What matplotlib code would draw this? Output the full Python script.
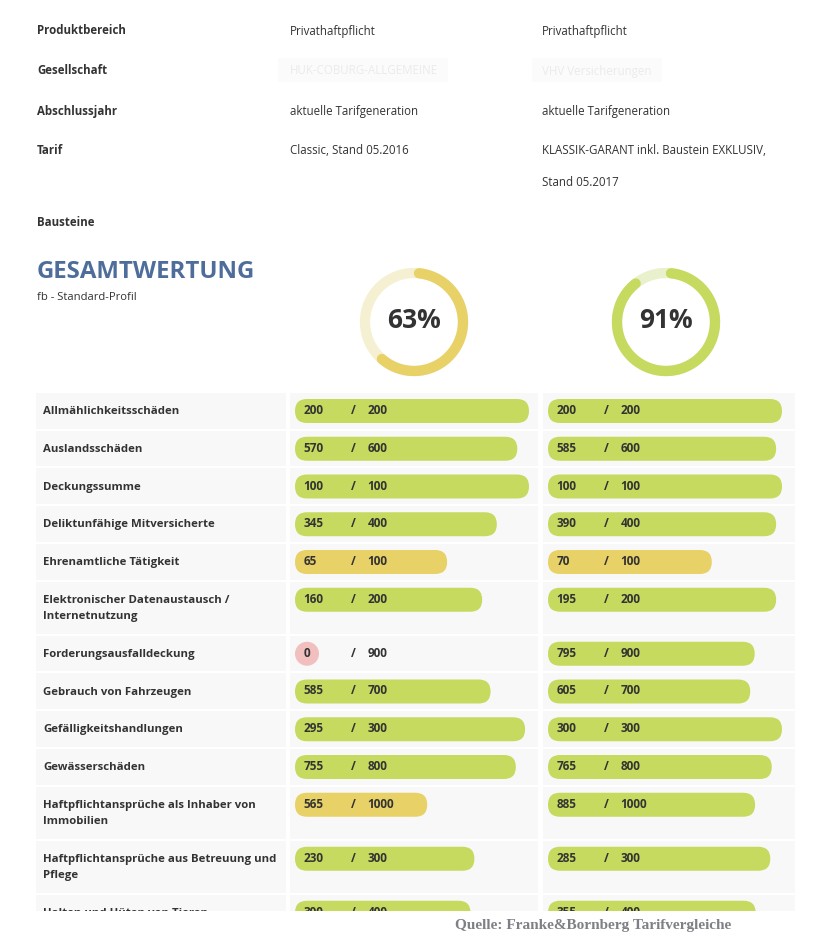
import matplotlib
matplotlib.use("Agg")
import matplotlib.pyplot as plt
from matplotlib.patches import FancyBboxPatch, Circle, Rectangle
import numpy as np

plt.rcParams['font.family'] = ['Open Sans', 'DejaVu Sans']

# Kopfbereich
kopf_labels = ["Produktbereich", "Gesellschaft", "Abschlussjahr", "Tarif", "Bausteine"]
tarif_a = ["Privathaftpflicht", "HUK-COBURG-ALLGEMEINE", "aktuelle Tarifgeneration",
           "Classic, Stand 05.2016", ""]
tarif_b = ["Privathaftpflicht", "VHV Versicherungen", "aktuelle Tarifgeneration",
           "KLASSIK-GARANT inkl. Baustein EXKLUSIV,\nStand 05.2017", ""]

gesamt_a = 63
gesamt_b = 91

kriterien = [
    "Allmählichkeitsschäden",
    "Auslandsschäden",
    "Deckungssumme",
    "Deliktunfähige Mitversicherte",
    "Ehrenamtliche Tätigkeit",
    "Elektronischer Datenaustausch /\nInternetnutzung",
    "Forderungsausfalldeckung",
    "Gebrauch von Fahrzeugen",
    "Gefälligkeitshandlungen",
    "Gewässerschäden",
    "Haftpflichtansprüche als Inhaber von\nImmobilien",
    "Haftpflichtansprüche aus Betreuung und\nPflege",
    "Halten und Hüten von Tieren",
]
punkte_a = [200, 570, 100, 345, 65, 160, 0, 585, 295, 755, 565, 230, 300]
punkte_b = [200, 585, 100, 390, 70, 195, 795, 605, 300, 765, 885, 285, 355]
max_punkte = [200, 600, 100, 400, 100, 200, 900, 700, 300, 800, 1000, 300, 400]

GRUEN = "#c5da5f"
GELB = "#e8d166"
ROSA = "#f2bfbf"
TEXT = "#333333"

W, H = 833, 938
fig = plt.figure(figsize=(W / 100, H / 100), dpi=100)
ax = fig.add_axes([0, 0, 1, 1])
ax.set_xlim(0, W)
ax.set_ylim(H, 0)
ax.axis("off")

# --- Kopf ---
kopf_y = [30, 70, 110, 150, 222]
for lab, a, b, y in zip(kopf_labels, tarif_a, tarif_b, kopf_y):
    ax.text(37, y + 1, lab, fontsize=8.3, fontweight="bold", color=TEXT, va="center")
    if lab == "Gesellschaft":
        # verwischte Namen
        ax.add_patch(Rectangle((278, y - 12), 170, 24, color="#fbfbfb", lw=0))
        ax.add_patch(Rectangle((532, y - 12), 130, 24, color="#fbfbfb", lw=0))
        ax.text(290, y + 1, a, fontsize=8.3, color="#ebebeb", va="center")
        ax.text(542, y + 1, b, fontsize=8.3, color="#ebebeb", va="center")
        continue
    for x, txt in ((290, a), (542, b)):
        for i, line in enumerate(txt.split("\n")):
            ax.text(x, y + 1 + i * 32, line, fontsize=8.3, color=TEXT, va="center")

# --- Gesamtwertung ---
ax.text(37, 272, "GESAMTWERTUNG", fontsize=17.3, fontweight="bold", color="#4f6d9b", va="center")
ax.text(37, 297, "fb - Standard-Profil", fontsize=8.1, color=TEXT, va="center")


def ring(cx, cy, pct, farbe, blass):
    r = 49
    t = np.linspace(0, 2 * np.pi, 200)
    ax.plot(cx + r * np.sin(t), cy - r * np.cos(t), color=blass, lw=7.4,
            solid_capstyle="butt", zorder=2)
    off = 5 / r
    t = np.linspace(off, 2 * np.pi * pct / 100 - off, 200)
    ax.plot(cx + r * np.sin(t), cy - r * np.cos(t), color=farbe, lw=7.4,
            solid_capstyle="round", zorder=3)
    ax.text(cx, cy - 2, f"{pct}%", fontsize=19, fontweight="bold", color=TEXT,
            ha="center", va="center", zorder=4)


ring(414, 322, gesamt_a, GELB, "#f6f0d2")
ring(666, 322, gesamt_b, GRUEN, "#e8f0cc")

# --- Tabelle ---
LEFT = (36, 250)
COL_A = (290, 248)
COL_B = (543, 252)
BAR_A = 295
BAR_B = 548
BAR_LEN = 234
BAR_H = 24


def bar(x0, top, wert, maxw):
    ratio = wert / maxw
    if ratio == 0:
        farbe = ROSA
    elif ratio >= 0.75:
        farbe = GRUEN
    else:
        farbe = GELB
    breite = BAR_LEN * ratio
    if breite <= BAR_H:
        ax.add_patch(Circle((x0 + BAR_H / 2, top + 6 + BAR_H / 2), BAR_H / 2,
                            color=farbe, lw=0, zorder=2))
    else:
        ax.add_patch(FancyBboxPatch((x0, top + 6), breite, BAR_H,
                                    boxstyle=f"round,pad=0,rounding_size={BAR_H / 2}",
                                    color=farbe, lw=0, zorder=2))
    ty = top + 17.5
    for dx, s in ((8.5, str(wert)), (56, "/"), (72.5, str(maxw))):
        ax.text(x0 + dx, ty, s, fontsize=8.5, fontweight="bold", color=TEXT,
                va="center", zorder=3)


top = 393
for lab, a, b, m in zip(kriterien, punkte_a, punkte_b, max_punkte):
    zeilen = lab.split("\n")
    h = 35.75 if len(zeilen) == 1 else 52
    for (x, w) in (LEFT, COL_A, COL_B):
        ax.add_patch(Rectangle((x, top), w, h, color="#f8f8f8", lw=0, zorder=1))
    for i, line in enumerate(zeilen):
        ax.text(43, top + 18.7 + i * 16.2, line, fontsize=8.2, fontweight="bold",
                color=TEXT, va="center", zorder=3)
    bar(BAR_A, top, a, m)
    bar(BAR_B, top, b, m)
    top += h + 2

# Abschnitt unten abgeschnitten
ax.add_patch(Rectangle((0, 911), W, H - 911, color="white", lw=0, zorder=10))
ax.text(593, 926, "Quelle: Franke&Bornberg Tarifvergleiche", fontsize=11,
        fontweight="bold", family=["Liberation Serif", "DejaVu Serif"],
        color="#7f8085", ha="center", va="center", zorder=11)

fig.savefig("out.png", dpi=100, facecolor="white")
